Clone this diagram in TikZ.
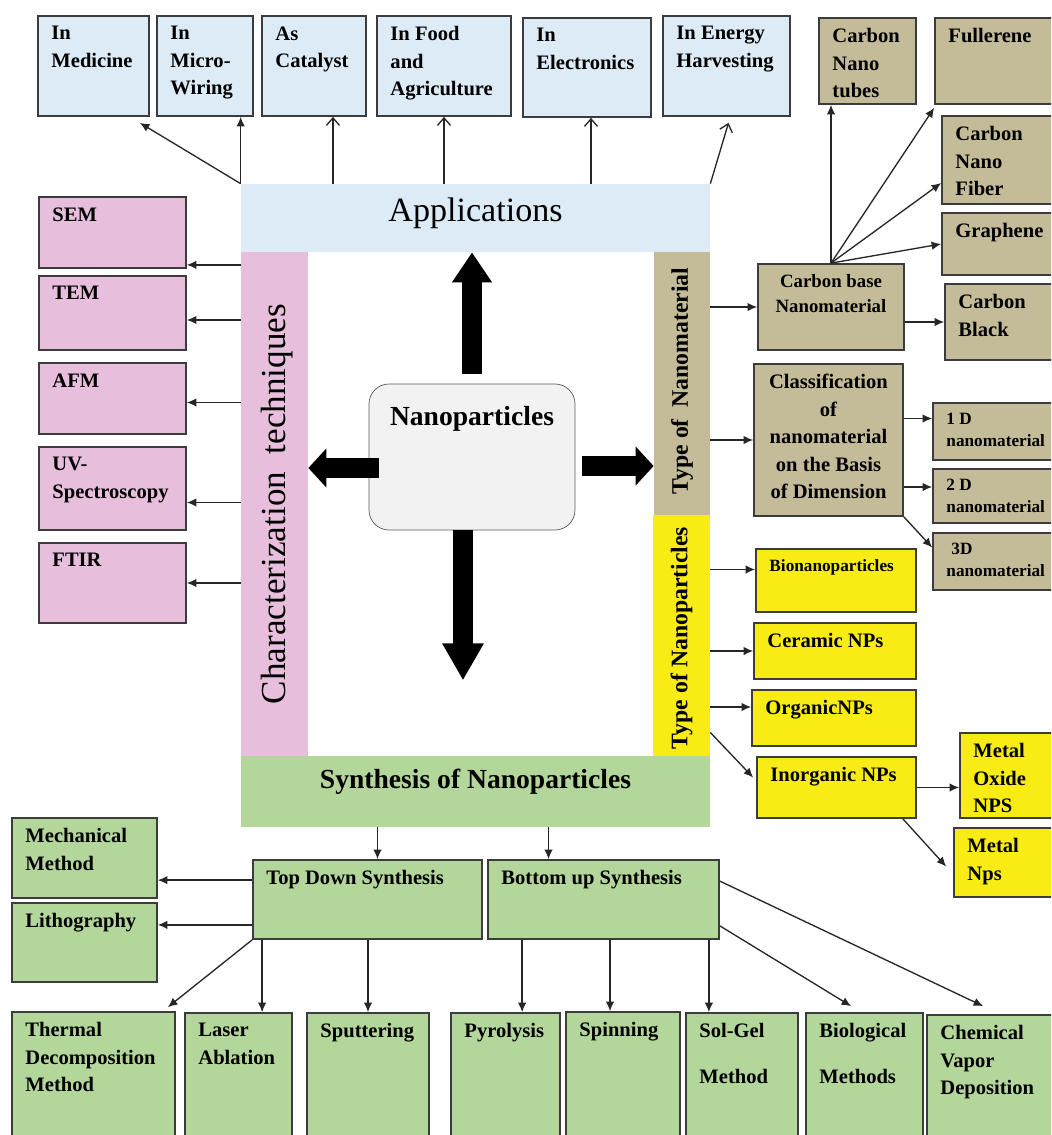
\documentclass[tikz,border=0pt]{standalone}
\usepackage{fontspec}
\setmainfont{Liberation Serif}
\usepackage{xcolor}
\usepackage{tikz}
\usetikzlibrary{arrows.meta, positioning, calc, fit}

\definecolor{appblue}{HTML}{DDEBF7}
\definecolor{charpink}{HTML}{E7BFDD}
\definecolor{khaki}{HTML}{C4BC98}
\definecolor{npyellow}{HTML}{F8EC14}
\definecolor{synthgreen}{HTML}{B3D69B}
\definecolor{nanogray}{HTML}{F2F2F2}
\definecolor{edge}{HTML}{3C3C3C}

\begin{document}
\begin{tikzpicture}[x=0.02cm, y=-0.02cm,
    box/.style={draw=edge, line width=1pt, inner sep=0pt},
    bar/.style={inner sep=0pt},
    txt/.style={anchor=north west, align=left, inner xsep=0.28cm, inner ysep=0.22cm, font=\fontsize{11.7}{15.6}\selectfont\bfseries},
    smallfont/.style={font=\fontsize{9.8}{12.5}\selectfont\bfseries},
    tl/.style={label={[txt]north west:#1}},
    tls/.style={label={[txt, smallfont]north west:#1}},
    lnk/.style={line width=0.75pt, draw=black!85},
    >={Latex[length=0.19cm, width=0.17cm]},
    openback/.style={arrows={Straight Barb[length=0.15cm, width=0.26cm]-}},
    fat/.style={line width=0.4cm, -{Triangle[width=0.76cm, length=0.36cm]}},
    sidetext/.style={font=\fontsize{13.5}{16}\selectfont\bfseries, rotate=90}]

    \useasboundingbox (0,0) rectangle (1051,1135);
    \clip (0,0) rectangle (1051,1135);
    \fill[white] (0,0) rectangle (1051,1135);

    % frame of bars round the centre
    \node[bar, fill=appblue, fit={(241,184) (710,252)}] (apps) {};
    \node[bar, fill=charpink, fit={(241,252) (308,756)}] (pink) {};
    \node[bar, fill=khaki, fit={(654,252) (710,515)}] (tanbar) {};
    \node[bar, fill=npyellow, fit={(653,515) (710,756)}] (yelbar) {};
    \node[bar, fill=synthgreen, fit={(241,756) (710,827)}] (synbar) {};
    \node[font=\fontsize{19.4}{22}\selectfont] at ([yshift=0.1cm]apps.center) {Applications};
    \node[font=\fontsize{20}{24}\selectfont, rotate=90] at ([xshift=0.05cm]pink.center) {Characterization~~techniques};
    \node[sidetext] at ([yshift=0.05cm]tanbar.center) {Type of~~Nanomaterial};
    \node[sidetext] at ([yshift=-0.05cm]yelbar.center) {Type of Nanoparticles};
    \node[font=\fontsize{15.7}{18}\selectfont\bfseries] at ([yshift=0.19cm]synbar.center) {Synthesis of Nanoparticles};

    % centre
    \node[draw=gray!70!black, fill=nanogray, rounded corners=0.4cm, inner sep=0pt, fit={(369,384) (575,530)}] (nano) {};
    \node[font=\fontsize{15.7}{18}\selectfont\bfseries, anchor=north, inner sep=0pt] at ([yshift=-0.45cm]nano.north) {Nanoparticles};
    \draw[fat, -{Triangle[width=0.76cm, length=0.6cm]}] ([yshift=0.2cm]nano.north) coordinate (a) -- (a |- apps.south);
    \draw[fat] ($(nano.west)+(10,11)$) coordinate (a) -- (a -| pink.east);
    \draw[fat] ($(nano.east)+(7,9)$) coordinate (a) -- (a -| tanbar.west);
    \draw[fat, -{Triangle[width=0.78cm, length=0.74cm]}] ($(nano.south)+(-9,0)$) -- ++(0,150);

    % applications
    \node[box, fill=appblue, fit={(38,16) (149,116)}, tl={In\\Medicine}] (med) {};
    \node[box, fill=appblue, fit={(157,16) (253,116)}, tl={In\\Micro-\\Wiring}] (wire) {};
    \node[box, fill=appblue, fit={(262,16) (366,116)}, tl={As\\Catalyst}] (cat) {};
    \node[box, fill=appblue, fit={(377,16) (511,116)}, tl={In Food\\and\\Agriculture}] (food) {};
    \node[box, fill=appblue, fit={(523,18) (651,117)}, tl={In\\Electronics}] (elec) {};
    \node[box, fill=appblue, fit={(663,16) (790,116)}, tl={In Energy\\Harvesting}] (energy) {};
    \draw[lnk, ->] (apps.north west) -- ($(med.south east)+(-10,6)$);
    \draw[lnk, ->] (apps.north west) -- (apps.north west |- wire.south);
    \draw[lnk, openback] ($(cat.south)+(19,0)$) coordinate (a) -- (a |- apps.north);
    \draw[lnk, openback] (food.south) -- (food.south |- apps.north);
    \draw[lnk, openback] ($(elec.south)+(4,0)$) coordinate (a) -- (a |- apps.north);
    \draw[lnk, openback] ($(energy.south)+(2,6)$) -- (apps.north east);

    % characterization techniques
    \node[box, fill=charpink, fit={(39,197) (186,268)}, tl={SEM}] (sem) {};
    \node[box, fill=charpink, fit={(39,276) (186,350)}, tl={TEM}] (tem) {};
    \node[box, fill=charpink, fit={(39,363) (186,434)}, tl={AFM}] (afm) {};
    \node[box, fill=charpink, fit={(39,447) (186,530)}, tl={UV-\\Spectroscopy}] (uv) {};
    \node[box, fill=charpink, fit={(39,543) (186,623)}, tl={FTIR}] (ftir) {};
    \draw[lnk, <-] ($(sem.south east)+(0,-4)$) coordinate (a) -- (a -| pink.west);
    \draw[lnk, <-] ($(tem.east)+(0,7)$) coordinate (a) -- (a -| pink.west);
    \draw[lnk, <-] ($(afm.east)+(0,4)$) coordinate (a) -- (a -| pink.west);
    \draw[lnk, <-] ($(uv.east)+(0,14)$) coordinate (a) -- (a -| pink.west);
    \draw[lnk, <-] (ftir.east) -- (ftir.east -| pink.west);

    % type of nanomaterial
    \node[box, fill=khaki, fit={(758,264) (904,350)}, label={[txt, anchor=north, align=center, font=\fontsize{10.7}{14.2}\selectfont\bfseries]north:Carbon base\\Nanomaterial}] (cbase) {};
    \node[box, fill=khaki, fit={(819,18) (916,104)}, tl={Carbon\\Nano\\tubes}] (cnt) {};
    \node[box, fill=khaki, fit={(935,18) (1060,104)}, tl={Fullerene}] (full) {};
    \node[box, fill=khaki, fit={(942,116) (1060,204)}, tl={Carbon\\Nano\\Fiber}] (cnf) {};
    \node[box, fill=khaki, fit={(942,213) (1060,275)}, tl={Graphene}] (gra) {};
    \node[box, fill=khaki, fit={(945,284) (1060,360)}, tl={Carbon\\Black}] (cblack) {};
    \node[box, fill=khaki, fit={(754,364) (903,516)}, label={[txt, anchor=north, align=center]north:Classification\\of\\nanomaterial\\on the Basis\\of Dimension}] (cls) {};
    \node[box, fill=khaki, fit={(933,403) (1060,460)}, tls={1 D\\nanomaterial}] (d1) {};
    \node[box, fill=khaki, fit={(933,469) (1060,523)}, tls={2 D\\nanomaterial}] (d2) {};
    \node[box, fill=khaki, fit={(933,533) (1060,590)}, tls={\hspace{0.1cm}3D\\nanomaterial}] (d3) {};
    \draw[lnk, ->] (cbase.west -| tanbar.east) -- (cbase.west);
    \draw[lnk, ->] (cblack.west -| cbase.east) -- (cblack.west);
    \draw[lnk, ->] (cbase.north) -- (cbase.north |- cnt.south);
    \draw[lnk, ->] (cbase.north) -- ($(full.south west)+(0,3)$);
    \draw[lnk, ->] (cbase.north) -- ($(cnf.west)+(0,23)$);
    \draw[lnk, ->] (cbase.north) -- (gra.west);
    \draw[lnk, ->] (cls.west -| tanbar.east) -- (cls.west);
    \draw[lnk, <-] ($(d1.west)+(0,-13)$) coordinate (a) -- (a -| cls.east);
    \draw[lnk, <-] ($(d2.west)+(0,-9)$) coordinate (a) -- (a -| cls.east);
    \draw[lnk, ->] (cls.south east) -- ($(d3.west)+(0,-14)$);

    % type of nanoparticles
    \node[box, fill=npyellow, fit={(756,549) (916,612)}, tls={Bionanoparticles}] (bio) {};
    \node[box, fill=npyellow, fit={(754,623) (916,679)}, tl={Ceramic NPs}] (cer) {};
    \node[box, fill=npyellow, fit={(752,690) (916,746)}, tl={OrganicNPs}] (org) {};
    \node[box, fill=npyellow, fit={(757,757) (916,818)}, tl={Inorganic NPs}] (inorg) {};
    \node[box, fill=npyellow, fit={(960,733) (1060,818)}, tl={Metal\\Oxide\\NPS}] (mox) {};
    \node[box, fill=npyellow, fit={(954,828) (1060,897)}, tl={Metal\\Nps}] (mnp) {};
    \draw[lnk, <-] ($(bio.west)+(0,-11)$) coordinate (a) -- (a -| yelbar.east);
    \draw[lnk, <-] (cer.west) -- (cer.west -| yelbar.east);
    \draw[lnk, <-] ($(org.west)+(0,-11)$) coordinate (a) -- (a -| yelbar.east);
    \draw[lnk, ->] ($(yelbar.east)+(0,97)$) -- ($(inorg.west)+(-3,-10)$);
    \draw[lnk, ->] (inorg.east) -- (inorg.east -| mox.west);
    \draw[lnk, ->] ($(inorg.south east)+(-14,0)$) -- ($(mnp.west)+(-7,4)$);

    % synthesis
    \node[box, fill=synthgreen, fit={(12,818) (157,898)}, tl={Mechanical\\Method}] (mech) {};
    \node[box, fill=synthgreen, fit={(12,903) (157,982)}, tl={Lithography}] (litho) {};
    \node[box, fill=synthgreen, fit={(253,860) (482,939)}, tl={Top Down Synthesis}] (td) {};
    \node[box, fill=synthgreen, fit={(488,860) (719,939)}, tl={Bottom up Synthesis}] (bu) {};
    \node[box, fill=synthgreen, fit={(12,1012) (175,1150)}, tl={Thermal\\Decomposition\\Method}] (therm) {};
    \node[box, fill=synthgreen, fit={(185,1013) (292,1150)}, tl={Laser\\Ablation}] (laser) {};
    \node[box, fill=synthgreen, fit={(307,1013) (429,1150)}, tl={Sputtering}] (sput) {};
    \node[box, fill=synthgreen, fit={(451,1013) (560,1150)}, tl={Pyrolysis}] (pyro) {};
    \node[box, fill=synthgreen, fit={(566,1012) (680,1150)}, tl={Spinning}] (spin) {};
    \node[box, fill=synthgreen, fit={(686,1013) (798,1150)}, tl={Sol-Gel\\[0.37cm]Method}] (sol) {};
    \node[box, fill=synthgreen, fit={(806,1013) (923,1150)}, tl={Biological\\[0.37cm]Methods}] (bio2) {};
    \node[box, fill=synthgreen, fit={(927,1015) (1060,1150)}, tl={Chemical\\Vapor\\Deposition}] (cvd) {};
    \draw[lnk, <-] ($(td.north)+(10,0)$) coordinate (a) -- (a |- synbar.south);
    \draw[lnk, <-] ($(bu.north)+(-55,0)$) coordinate (a) -- (a |- synbar.south);
    \draw[lnk, ->] ($(td.north west)+(0,21)$) coordinate (a) -- (a -| mech.east);
    \draw[lnk, ->] ($(td.south west)+(0,-15)$) coordinate (a) -- (a -| litho.east);
    \draw[lnk, ->] (td.south west) -- ($(therm.north east)+(-8,-4)$);
    \draw[lnk, ->] ($(td.south west)+(10,0)$) coordinate (a) -- (a |- laser.north);
    \draw[lnk, ->] (sput.north |- td.south) -- (sput.north);
    \draw[lnk, ->] ($(bu.south west)+(35,0)$) coordinate (a) -- (a |- pyro.north);
    \draw[lnk, <-] ($(spin.north)+(-13,0)$) coordinate (a) -- (a |- bu.south);
    \draw[lnk, ->] ($(bu.south east)+(-11,0)$) coordinate (a) -- (a |- sol.north);
    \draw[lnk, ->] ($(bu.south east)+(0,-14)$) -- ($(bio2.north west)+(46,-6)$);
    \draw[lnk, ->] ($(bu.north east)+(0,22)$) -- ($(cvd.north west)+(57,-8)$);
\end{tikzpicture}
\end{document}
